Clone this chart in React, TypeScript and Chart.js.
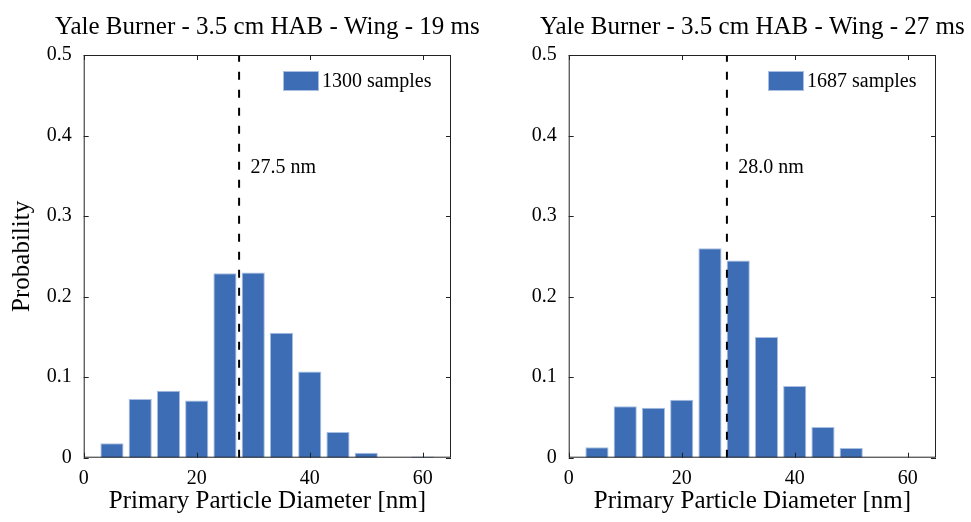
import React, { useEffect, useRef } from "react";
import { Chart, registerables } from "chart.js";

Chart.register(...registerables);

// Histogram bin centres (nm) and normalised counts for each residence time
const binCenters = [5, 10, 15, 20, 25, 30, 35, 40, 45, 50, 55, 60];
const prob19ms = [0.018, 0.073, 0.083, 0.071, 0.229, 0.23, 0.155, 0.107, 0.032, 0.006, 0, 0.0015];
const prob27ms = [0.013, 0.064, 0.062, 0.072, 0.26, 0.245, 0.15, 0.089, 0.038, 0.012, 0, 0];
const meanDiam19ms = 27.5;
const meanDiam27ms = 28.0;
const samples19ms = 1300;
const samples27ms = 1687;
const titles = [
  "Yale Burner - 3.5 cm HAB - Wing - 19 ms",
  "Yale Burner - 3.5 cm HAB - Wing - 27 ms",
];
const xTicks = [0, 20, 40, 60];
const yTicks = [0, 0.1, 0.2, 0.3, 0.4, 0.5];
const xRange = [0, 65];
const yRange = [0, 0.5];

const FONT = "'Liberation Serif', 'Times New Roman', serif";
const BAR_COLOR = "#3d6db5";
const AXIS_COLOR = "#222222";

// Boxed axes with inward ticks, a title centred over the plot area,
// the mean label and a borderless legend
const framePlugin = {
  id: "frame",
  afterDatasetsDraw(chart: any, _args: any, opts: any) {
    const { ctx, chartArea: a, scales } = chart;
    const xs = scales.x;
    const ys = scales.y;
    const tickLen = 5;
    ctx.save();
    ctx.strokeStyle = AXIS_COLOR;
    ctx.lineWidth = 1;
    ctx.strokeRect(a.left + 0.5, a.top + 0.5, a.right - a.left - 1, a.bottom - a.top - 1);
    ctx.beginPath();
    for (const t of xs.ticks) {
      const px = Math.round(xs.getPixelForValue(t.value)) + 0.5;
      ctx.moveTo(px, a.bottom);
      ctx.lineTo(px, a.bottom - tickLen);
      ctx.moveTo(px, a.top);
      ctx.lineTo(px, a.top + tickLen);
    }
    for (const t of ys.ticks) {
      const py = Math.round(ys.getPixelForValue(t.value)) + 0.5;
      ctx.moveTo(a.left, py);
      ctx.lineTo(a.left + tickLen, py);
      ctx.moveTo(a.right, py);
      ctx.lineTo(a.right - tickLen, py);
    }
    ctx.stroke();

    // plot title
    ctx.fillStyle = "#000";
    ctx.font = `25px ${FONT}`;
    ctx.textAlign = "center";
    ctx.textBaseline = "alphabetic";
    ctx.fillText(opts.title, (a.left + a.right) / 2, 34.3);

    // mean diameter label
    ctx.font = `20px ${FONT}`;
    ctx.textAlign = "left";
    ctx.textBaseline = "middle";
    ctx.fillText(
      `${opts.mean.toFixed(1)} nm`,
      xs.getPixelForValue(opts.mean + 2),
      ys.getPixelForValue(0.36)
    );

    // legend
    const boxX = a.right - 168;
    const boxY = a.top + 16;
    ctx.fillStyle = BAR_COLOR;
    ctx.fillRect(boxX, boxY, 36, 20);
    ctx.strokeStyle = "#a9bfe2";
    ctx.strokeRect(boxX + 0.5, boxY + 0.5, 35, 19);
    ctx.fillStyle = "#000";
    ctx.fillText(`${opts.samples} samples`, boxX + 39, boxY + 11);
    ctx.restore();
  },
};

function Histogram(props: {
  values: number[];
  mean: number;
  samples: number;
  title: string;
  showYTitle: boolean;
}) {
  const ref = useRef<HTMLCanvasElement>(null);
  useEffect(() => {
    if (!ref.current) return;
    const chart = new Chart(ref.current, {
      type: "bar",
      data: {
        datasets: [
          {
            type: "line",
            label: "mean",
            data: [
              { x: props.mean, y: yRange[0] },
              { x: props.mean, y: yRange[1] },
            ],
            borderColor: "#000",
            borderWidth: 2,
            borderDash: [8, 10],
            pointRadius: 0,
            order: 0,
          } as any,
          {
            type: "bar",
            label: `${props.samples} samples`,
            data: binCenters.map((c, i) => ({ x: c, y: props.values[i] })),
            backgroundColor: BAR_COLOR,
            borderColor: "#a9bfe2",
            borderWidth: { left: 1, right: 1, top: 1, bottom: 0 },
            categoryPercentage: 1,
            barPercentage: 0.82,
            order: 1,
          } as any,
        ],
      },
      options: {
        responsive: false,
        animation: false,
        layout: { padding: { left: 0, right: 34, top: 55, bottom: 0 } },
        scales: {
          x: {
            type: "linear",
            min: xRange[0],
            max: xRange[1],
            offset: false,
            grid: { display: false, drawTicks: false },
            border: { display: false },
            afterBuildTicks: (s: any) => {
              s.ticks = xTicks.map((v) => ({ value: v }));
            },
            afterFit: (s: any) => {
              s.height = 64.3;
            },
            ticks: {
              color: "#000",
              font: { family: FONT, size: 20 },
              padding: 9,
              maxRotation: 0,
              autoSkip: false,
            },
            title: {
              display: true,
              text: "Primary Particle Diameter [nm]",
              color: "#000",
              font: { family: FONT, size: 25 },
              padding: { top: 0, bottom: 6 },
            },
          },
          y: {
            type: "linear",
            min: yRange[0],
            max: yRange[1],
            grid: { display: false, drawTicks: false },
            border: { display: false },
            afterBuildTicks: (s: any) => {
              s.ticks = yTicks.map((v) => ({ value: v }));
            },
            afterFit: (s: any) => {
              s.width = 83.7;
            },
            ticks: {
              color: "#000",
              font: { family: FONT, size: 20 },
              padding: 12,
              callback: (v: any) => (v === 0 ? "0" : Number(v).toFixed(1)),
            },
            title: {
              display: props.showYTitle,
              text: "Probability",
              color: "#000",
              font: { family: FONT, size: 25 },
              padding: { top: 7, bottom: 0 },
            },
          },
        },
        plugins: {
          legend: { display: false },
          tooltip: { enabled: false },
          title: { display: false },
          frame: { mean: props.mean, samples: props.samples, title: props.title },
        } as any,
      },
      plugins: [framePlugin],
    });
    return () => chart.destroy();
  }, []);
  return <canvas ref={ref} width={485} height={522} style={{ display: "block" }} />;
}

export default function App() {
  return (
    <div
      style={{
        position: "absolute",
        left: 0,
        top: 0,
        width: 971,
        height: 522,
        background: "#fff",
        display: "flex",
      }}
    >
      <Histogram values={prob19ms} mean={meanDiam19ms} samples={samples19ms} title={titles[0]} showYTitle={true} />
      <Histogram values={prob27ms} mean={meanDiam27ms} samples={samples27ms} title={titles[1]} showYTitle={false} />
    </div>
  );
}
